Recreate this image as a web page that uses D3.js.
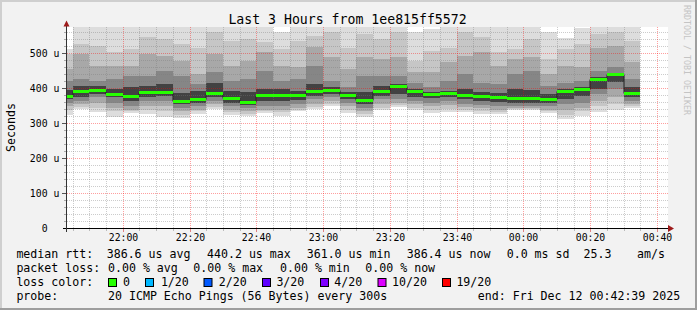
<!DOCTYPE html>
<html><head><meta charset="utf-8">
<script src="https://cdn.jsdelivr.net/npm/d3@7"></script>
<style>
body{margin:0;background:#f2f2f2}
svg{display:block}
text{font-family:"DejaVu Sans Mono",monospace;fill:#000}
</style>
</head><body><svg id="c" width="697" height="310"></svg>
<script>
// ---------- data ----------
const stepEnds = ["21:45","21:50","21:55","22:00","22:05","22:10","22:15","22:20","22:25","22:30","22:35","22:40","22:45","22:50","22:55","23:00","23:05","23:10","23:15","23:20","23:25","23:30","23:35","23:40","23:45","23:50","23:55","00:00","00:05","00:10","00:15","00:20","00:25","00:30","00:35"];
const median = [379,392.5,395,384,378,390,390.5,365.6,371,387.6,373,361,381,382,382,392.5,396,382,367.6,392.5,407.7,391.5,385.7,387.6,382,379,375,373,372.5,371,392.5,400,427,440.2,386.4];
const hi1 = [513,590,590,590,590,590,590,590,590,590,590,590,590,562,590,590,590,590,590,590,590,562,571,590,590,590,590,590,590,560,543,572,590,590,590];
const hi2 = [498,527,522,503,513,546,541,527,517,560,537,541,532,513,537,551,560,517,556,541,560,480,508,517,560,546,503,513,541,484,513,527,556,560,537];
const hi3 = [456,498,465,465,465,500,494,480,441,498,465,480,503,465,460,518,490,455,489,484,489,446,446,475,494,503,465,484,489,441,465,460,517,522,475];
const hi4 = [422,427,422,427,436,436,450,436,413,446,422,427,450,422,427,465,422,403,436,436,436,417,403,422,441,417,412,441,450,408,417,422,450,460,427];
const hi5 = [395,408,408,398,403,408,413,387,393,417,393,389,398,398,393,413,403,389,389,408,413,398,389,393,398,389,387,400,395,384,398,403,433,443,403];
const lo5 = [370,375,385,375,365,375,380,355,360,375,360,352,365,365,368,380,385,370,355,380,385,375,372,375,370,365,362,360,360,360,370,380,400,420,375];
const lo4 = [358,365,375,360,350,365,365,345,350,365,350,343,350,350,357,370,375,360,345,370,370,365,360,365,357,353,350,350,350,350,355,360,385,400,365];
const lo3 = [350,355,360,345,340,350,350,335,340,355,340,335,340,340,345,357,365,350,335,355,360,355,350,353,347,345,340,345,345,340,340,345,365,375,355];
const lo2 = [340,347,345,335,335,340,336,325,335,347,332,328,335,332,340,347,357,340,328,345,352,345,340,342,340,335,332,342,342,335,325,335,350,355,350];
const lo1 = [324,341,334,320,331,327,320,317,328,341,324,322,329,322,337,341,350,331,320,339,347,339,329,334,334,327,327,339,339,329,314,322,334,339,344];
const yTickValues = [0,100,200,300,400,500];
const yTickLabels = ["0","100 u","200 u","300 u","400 u","500 u"];
const xTickLabels = ["22:00","22:20","22:40","23:00","23:20","23:40","00:00","00:20","00:40"];
const title = "Last 3 Hours from 1ee815ff5572";
const row1 = ["median rtt:","386.6 us avg","440.2 us max","361.0 us min","386.4 us now","0.0 ms sd","25.3","am/s"];
const row2 = ["packet loss:","0.00 % avg","0.00 % max","0.00 % min","0.00 % now"];
const lossLabels = ["0","1/20","2/20","3/20","4/20","10/20","19/20"];
const lossColors = ["#26ff00","#00b8ff","#0059ff","#5e00ff","#7e00ff","#dd00ff","#ff0000"];
const row4 = ["probe:","20 ICMP Echo Pings (56 Bytes) every 300s","end: Fri Dec 12 00:42:39 2025"];

// ---------- layout ----------
const W=697,H=310, PL=66, PR=667, PT=27;
const svg=d3.select("#c");
const parse = s => { const [h,m]=s.split(":").map(Number); return new Date(2025,11,h<12?12:11,h,m); };
const tStart=new Date(2025,11,11,21,43), tEnd=new Date(2025,11,12,0,43);
const x=d3.scaleTime().domain([tStart,tEnd]).range([PL,PR]);
const y=d3.scaleLinear().domain([0,500]).range([228.5,53.5]);
const yMax=y.invert(PT);

// frame
svg.append("rect").attr("width",W).attr("height",H).attr("fill","#f2f2f2");
svg.append("rect").attr("x",0).attr("y",0).attr("width",W).attr("height",2).attr("fill","#cfcfcf");
svg.append("rect").attr("x",0).attr("y",0).attr("width",2).attr("height",H).attr("fill","#cfcfcf");
svg.append("rect").attr("x",0).attr("y",H-2).attr("width",W).attr("height",2).attr("fill","#9e9e9e");
svg.append("rect").attr("x",W-2).attr("y",0).attr("width",2).attr("height",H).attr("fill","#9e9e9e");

// canvas
svg.append("rect").attr("x",PL+1).attr("y",PT).attr("width",PR-PL).attr("height",228-PT).attr("fill","#fff");
svg.append("clipPath").attr("id","clip").append("rect").attr("x",PL+1).attr("y",PT).attr("width",PR-PL).attr("height",228-PT);

// smoke
const bands=[[hi1,lo1,"#dddddd"],[hi2,lo2,"#c6c6c6"],[hi3,lo3,"#a8a8a8"],[hi4,lo4,"#868686"],[hi5,lo5,"#424242"]];
const steps=stepEnds.map((s,i)=>{const e=parse(s);return {i,x0:Math.round(x(d3.timeMinute.offset(e,-5))),x1:Math.round(x(e))};});
const gS=svg.append("g").attr("clip-path","url(#clip)");
bands.forEach(([hi,lo,col])=>{
  gS.selectAll(null).data(steps).enter().append("rect")
    .attr("x",d=>d.x0).attr("width",d=>d.x1-d.x0)
    .attr("y",d=>Math.round(y(hi[d.i]))).attr("height",d=>Math.round(y(lo[d.i]))-Math.round(y(hi[d.i])))
    .attr("fill",col);
});

// grid
const gG=svg.append("g");
const minorCol="rgba(120,120,120,0.38)", majorCol="rgba(255,0,0,0.38)";
d3.range(20,yMax,20).forEach(v=>{
  const yy=y(v), major=v%100===0;
  gG.append("line").attr("x1",PL+1).attr("x2",PR+2).attr("y1",yy).attr("y2",yy)
    .attr("stroke",major?majorCol:minorCol).attr("stroke-dasharray","1,1");
  gG.append("line").attr("x1",major?PL-4:PL-2).attr("x2",PL).attr("y1",yy).attr("y2",yy)
    .attr("stroke",major?"#555":"#aaa");
});
d3.timeMinute.every(5).range(tStart,tEnd).forEach(t=>{
  const xx=Math.round(x(t))+0.5, major=t.getMinutes()%20===0;
  gG.append("line").attr("x1",xx).attr("x2",xx).attr("y1",PT).attr("y2",228)
    .attr("stroke",major?majorCol:minorCol).attr("stroke-dasharray","1,1");
  gG.append("line").attr("x1",xx).attr("x2",xx).attr("y1",229).attr("y2",major?232:231)
    .attr("stroke",major?"#e08080":"#bbb");
});

// median
const gM=svg.append("g").attr("clip-path","url(#clip)");
const pts=steps.map(d=>[d.x0,Math.round(y(median[d.i]))+0.5]);
pts.push([steps[steps.length-1].x1,Math.round(y(median[median.length-1]))+0.5]);
gM.append("path").attr("d",d3.line().curve(d3.curveStepAfter)(pts)).attr("fill","none").attr("stroke","#202020").attr("stroke-width",1);
gM.selectAll(null).data(steps).enter().append("rect")
  .attr("x",d=>d.x0).attr("width",d=>d.x1-d.x0)
  .attr("y",d=>Math.round(y(median[d.i]))-1).attr("height",3).attr("fill","#26ff00");

// axes
svg.append("line").attr("x1",PL-3).attr("x2",PR+3).attr("y1",228.5).attr("y2",228.5).attr("stroke","#000");
svg.append("line").attr("x1",PL+0.5).attr("x2",PL+0.5).attr("y1",232).attr("y2",23).attr("stroke","#333");
svg.append("path").attr("d",`M${PR+1},225 L${PR+7},228.5 L${PR+1},232 Z`).attr("fill","#9e1b1b");
svg.append("path").attr("d",`M${PL-2.5},26.5 L${PL+0.5},20.5 L${PL+3.5},26.5 Z`).attr("fill","#9e1b1b");

// y labels
svg.selectAll(null).data(yTickValues).enter().append("text")
  .attr("x",44.6).attr("y",(d)=>y(d)+3.5).attr("text-anchor","middle").attr("font-size","9.8px")
  .text((d,i)=>yTickLabels[i]);
// x labels
const xTicks=d3.timeMinute.every(20).range(d3.timeMinute.offset(tStart,1),tEnd);
svg.selectAll(null).data(xTicks).enter().append("text")
  .attr("x",d=>Math.round(x(d))+0.5).attr("y",241).attr("text-anchor","middle").attr("font-size","9.8px")
  .text((d,i)=>xTickLabels[i]);

// title & side texts
svg.append("text").attr("x",347.5).attr("y",24).attr("text-anchor","middle").attr("font-size","13.2px").text(title);
svg.append("text").attr("transform","translate(15,127.5) rotate(-90)").attr("text-anchor","middle").attr("font-size","11.6px").text("Seconds");
svg.append("text").attr("transform","translate(684,5) rotate(90)").attr("font-size","8.3px").style("fill","#c4c4c4").text("RRDTOOL / TOBI OETIKER");

// legend
const LF="11.6px";
const r1x=[16.4,106.7,207,306.7,406.7,506.7,583.6,637];
row1.forEach((s,i)=>svg.append("text").attr("x",r1x[i]).attr("y",257.5).attr("font-size",LF).text(s));
const r2x=[16.4,108,193.3,280,365.3];
row2.forEach((s,i)=>svg.append("text").attr("x",r2x[i]).attr("y",271.7).attr("font-size",LF).text(s));
svg.append("text").attr("x",16.4).attr("y",285.8).attr("font-size",LF).text("loss color:");
const boxX=[108.5,145.5,204,262.5,320.5,378,442.5];
const labX=[123,160.9,218.7,276.4,334.2,392,456.4];
lossLabels.forEach((s,i)=>{
  svg.append("rect").attr("x",boxX[i]).attr("y",278.5).attr("width",8).attr("height",8).attr("fill",lossColors[i]).attr("stroke","#000");
  svg.append("text").attr("x",labX[i]).attr("y",285.8).attr("font-size",LF).text(s);
});
const r4x=[16.4,108,477.8];
row4.forEach((s,i)=>svg.append("text").attr("x",r4x[i]).attr("y",300).attr("font-size",LF).text(s));
</script>
</body></html>
